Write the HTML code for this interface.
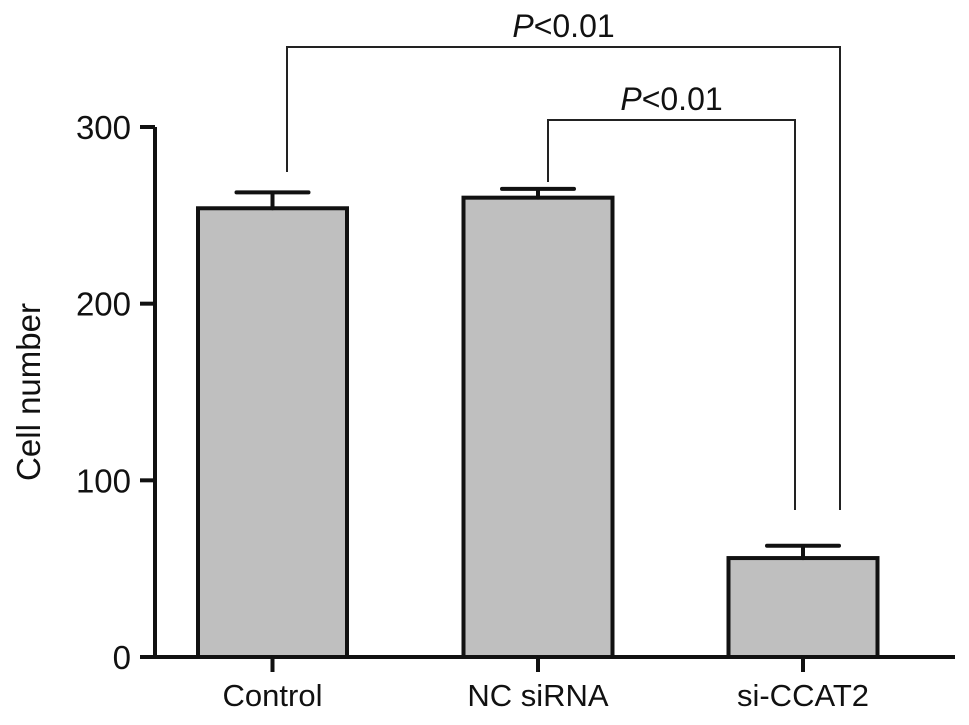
<!DOCTYPE html>
<html><head><meta charset="utf-8"><style>body{margin:0;background:#fff}svg{display:block;font-family:"Liberation Sans",Arial,sans-serif}</style></head>
<body>
<svg id="c" width="969" height="725"></svg>
<script>
const categories=["Control","NC siRNA","si-CCAT2"];
const values=[254,260,56];
const errors=[9,5,7];
const yTicks=[0,100,200,300];
const sigLabels=["P<0.01","P<0.01"];
const NS="http://www.w3.org/2000/svg";
const svg=document.getElementById('c');
const y0=657,yScale=(657-127)/300;
function Y(v){return y0-v*yScale;}
const centers=[272.5,538,803];
function X(i){return centers[i];}
const bw=149;
function el(t,a,p){const e=document.createElementNS(NS,t);for(const k in a)e.setAttribute(k,a[k]);(p||svg).appendChild(e);return e;}
categories.forEach((c,i)=>{
 const r=el('rect',{x:X(i)-bw/2,y:Y(values[i]),width:bw,height:y0-Y(values[i]),fill:'#bfbfbf',stroke:'#111','stroke-width':4});
 
 
 const e=el('path',{d:`M${X(i)},${Y(values[i])}V${Y(values[i]+errors[i])}M${X(i)-36},${Y(values[i]+errors[i])}H${X(i)+36}`,stroke:'#111','stroke-width':4,fill:'none','stroke-linecap':'round'});
 
 
 el('path',{d:`M${X(i)},${y0}V672`,stroke:'#111','stroke-width':4});
 const t=el('text',{x:X(i),y:706,'text-anchor':'middle','font-size':31,fill:'#111'});t.textContent=c;
 
 
});
el('path',{d:`M155,${Y(300)}V${y0}H955`,stroke:'#111','stroke-width':4,fill:'none'});
yTicks.forEach(v=>{
 el('path',{d:`M140,${Y(v)}H155`,stroke:'#111','stroke-width':4});
 const t=el('text',{x:131,y:Y(v)+12,'text-anchor':'end','font-size':33,fill:'#111'});t.textContent=v;
 
 
});
const yt=el('text',{x:0,y:0,transform:'translate(40,392) rotate(-90)','text-anchor':'middle','font-size':33,fill:'#111'});yt.textContent='Cell number';


const brackets=[[287,840,47,172,510],[548,795,120,182,510]];
brackets.forEach((b,i)=>{
 const p=el('path',{d:`M${b[0]},${b[3]}V${b[2]}H${b[1]}V${b[4]}`,stroke:'#222','stroke-width':2,fill:'none'});
 
 
 const t=el('text',{x:(b[0]+b[1])/2,y:b[2]-10,'text-anchor':'middle','font-size':32,fill:'#111'});
 const lab=sigLabels[i];
 const s=el('tspan',{'font-style':'italic'},t);s.textContent=lab[0];
 const s2=el('tspan',{},t);s2.textContent=lab.slice(1);
 
 
});
</script>
</body></html>
